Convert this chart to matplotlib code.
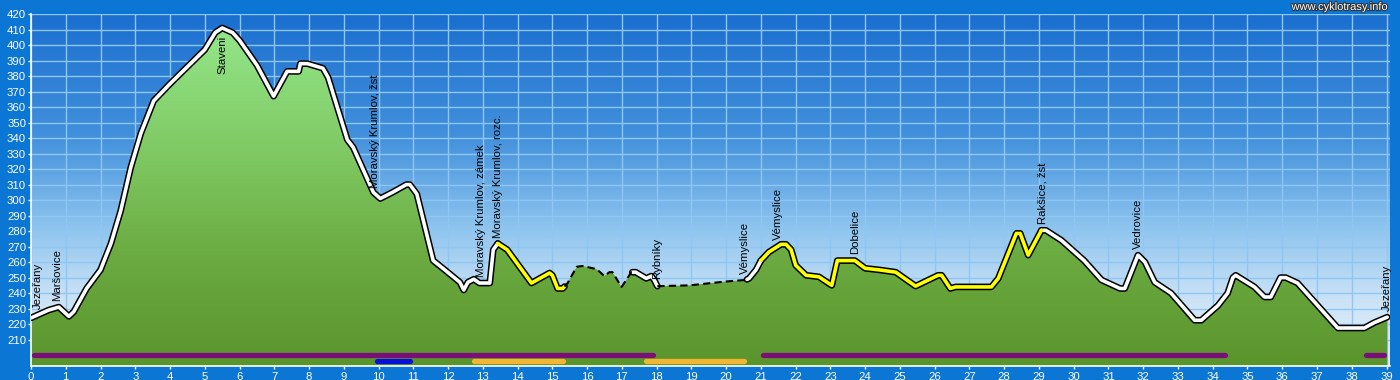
import numpy as np
import matplotlib.pyplot as plt
import matplotlib.patheffects as pe
from matplotlib.colors import LinearSegmentedColormap

plt.rcParams['font.family'] = ['Liberation Sans', 'DejaVu Sans']

# elevation profile (km, m a.s.l.)
km = [0, 0.5, 0.8, 1.09, 1.23, 1.6, 2.0, 2.3, 2.58, 2.87, 3.16, 3.53, 4.0, 4.5,
      5.0, 5.3, 5.5, 5.8, 6.0, 6.5, 6.98, 7.37, 7.7, 7.75, 7.95, 8.4, 8.55, 9.1,
      9.27, 9.85, 10.05, 10.4, 10.8, 10.9, 11.1, 11.57, 11.85, 12.34, 12.45,
      12.57, 12.74, 12.9, 13.2, 13.3, 13.43, 13.7, 14.4, 14.92, 15.0, 15.15,
      15.3, 15.44, 15.7, 15.87, 16.27, 16.5, 16.64, 16.73, 16.99, 17.13, 17.27,
      17.4, 17.7, 17.85, 17.93, 18.02, 18.94, 20.0, 20.57, 20.66, 20.86, 21.0,
      21.23, 21.58, 21.72, 21.87, 22.0, 22.3, 22.67, 23.04, 23.2, 23.7, 24.0,
      24.4, 24.88, 25.45, 26.1, 26.2, 26.45, 26.6, 27.63, 27.83, 28.35, 28.46,
      28.69, 29.07, 29.2, 29.65, 30.3, 30.8, 31.33, 31.47, 31.85, 32.05, 32.33,
      32.8, 33.48, 33.67, 34.15, 34.43, 34.58, 34.66, 35.2, 35.49, 35.67, 35.95,
      36.1, 36.44, 37.4, 37.6, 38.36, 38.65, 39.02]
elev = [224, 229, 231, 225, 228, 243, 255, 272, 293, 321, 343, 364, 375, 386,
        397, 408, 411, 408, 403, 387, 367, 383, 383, 388, 388, 385, 379, 339,
        334, 305, 301, 305, 310, 310, 304, 261, 256, 247, 242, 247, 249, 246.5,
        246.5, 268, 272, 268, 246.5, 253, 251.5, 243, 243, 246.5, 257, 257.5,
        255.5, 251, 253.5, 253.5, 244, 248.5, 253.5, 253.5, 249.5, 251, 248.5,
        244.5, 245, 247.5, 248.5, 249.5, 255, 261, 266.5, 271.5, 271.5, 268,
        258, 251.5, 250.5, 245, 261, 261, 256, 255, 253.5, 244.5, 251.5, 251.5,
        243, 244, 244, 249.5, 278.5, 278.5, 264.5, 280.5, 280.5, 274, 261,
        248.5, 243, 243, 264.5, 260, 247, 240, 222.5, 222.5, 232, 240, 250,
        251.5, 244, 237.5, 237.5, 250, 250, 246.5, 222.5, 217.5, 217.5, 221,
        224.5]

# line style sections along the route (km from, km to)
white_segs = [(0, 13.43), (17.3, 18.02), (20.6, 21.0), (29.07, 39.02)]
yellow_segs = [(13.43, 15.35), (21.0, 29.07)]
dashed_segs = [(15.35, 17.3), (18.02, 20.6)]

# surface bars under the profile
purple_bars = [(0, 18.0), (20.95, 34.45), (38.3, 39.02)]
blue_bars = [(9.85, 11.0)]
orange_bars = [(12.65, 15.4), (17.6, 20.6)]

# place names
place_km = [0.2, 0.75, 5.5, 9.9, 12.95, 13.45, 18.0, 20.55, 21.5, 23.7,
            29.1, 31.85, 39.0]
place_names = ['Jezeřany', 'Maršovice', 'Staveni', 'Moravský Krumlov, žst',
               'Moravský Krumlov, zámek', 'Moravský Krumlov, rozc.', 'Rybníky',
               'Vémyslice', 'Vémyslice', 'Dobelice', 'Rakšice, žst',
               'Vedrovice', 'Jezeřany']

km = np.array(km)
elev = np.array(elev, dtype=float)
ymin, ymax = 193, 420
xmax = 39.1


def section(a, b):
    inner = (km > a) & (km < b)
    xs = np.concatenate([[a], km[inner], [b]])
    return xs, np.interp(xs, km, elev)


fig = plt.figure(figsize=(14, 3.8), dpi=100, facecolor='#0b76d3')
ax = fig.add_axes([31 / 1400, 14 / 380, 1359 / 1400, 352 / 380])
ax.set_xlim(0, xmax)
ax.set_ylim(ymin, ymax)

# sky gradient
sky = LinearSegmentedColormap.from_list('sky', [
    (0.0, '#ebf3fc'), (0.2, '#c8e1f6'), (0.4, '#8cc3ee'),
    (0.65, '#4391dc'), (1.0, '#1a6ecf')])
ax.imshow(np.linspace(0, 1, 256).reshape(-1, 1), extent=[0, xmax, ymin, ymax],
          origin='lower', aspect='auto', cmap=sky, zorder=0)

# grid
ax.set_xticks(range(0, 40))
ax.set_yticks(range(210, 421, 10))
ax.set_axisbelow(True)
ax.grid(color='#8ec6f4', lw=1)

# green fill with gradient
poly = ax.fill_between(km, elev, ymin, color='none', lw=0)
grass = LinearSegmentedColormap.from_list('grass', [
    (0.0, '#5a952c'), (0.3, '#6aaa40'), (0.6, '#7fc862'), (1.0, '#95ea8e')])
im = ax.imshow(np.linspace(0, 1, 256).reshape(-1, 1), extent=[0, xmax, ymin, ymax],
               origin='lower', aspect='auto', cmap=grass, zorder=2)
im.set_clip_path(poly.get_paths()[0], transform=ax.transData)

# profile line
for a, b in white_segs + yellow_segs:
    xs, ys = section(a, b)
    ax.plot(xs, ys, color='black', lw=4.8, solid_capstyle='round',
            solid_joinstyle='round', zorder=3)
for segs, col in [(white_segs, 'white'), (yellow_segs, '#ffff00')]:
    for a, b in segs:
        xs, ys = section(a, b)
        ax.plot(xs, ys, color=col, lw=2.6, solid_capstyle='round',
                solid_joinstyle='round', zorder=4)
for a, b in dashed_segs:
    xs, ys = section(a, b)
    ax.plot(xs, ys, color='black', lw=1.5, dashes=(3.5, 2), zorder=4)

# surface bars
for bars, yb, col in [(purple_bars, 200, '#7a0f78'), (blue_bars, 196.4, '#0a10d8'),
                      (orange_bars, 196.4, '#f2b632')]:
    for a, b in bars:
        ax.plot([a + 0.1, b - 0.1], [yb, yb], color=col, lw=3.8,
                solid_capstyle='round', zorder=5)

# place labels
for x, name in zip(place_km, place_names):
    h = np.interp(x, km, elev)
    if h > 400:
        ax.text(x, h - 5, name, rotation=90, ha='center', va='top',
                fontsize=8.2, color='black', zorder=6)
    else:
        ax.text(x, h + 4, name, rotation=90, ha='center', va='bottom',
                fontsize=8.2, color='black', zorder=6)

# axes styling
for side in ['top', 'right']:
    ax.spines[side].set_visible(False)
for side in ['left', 'bottom']:
    ax.spines[side].set_color('white')
    ax.spines[side].set_linewidth(1.2)
ax.tick_params(colors='white', labelsize=8.2, length=2.5, width=1, pad=1)
ax.tick_params(axis='x', pad=2)

fig.text(1388 / 1400, 1 - 7 / 380, 'www.cyklotrasy.info', ha='right', va='center',
         fontsize=8, color='white',
         path_effects=[pe.withStroke(linewidth=1.5, foreground='#333333')])

fig.savefig('out.png', dpi=100, facecolor=fig.get_facecolor())
